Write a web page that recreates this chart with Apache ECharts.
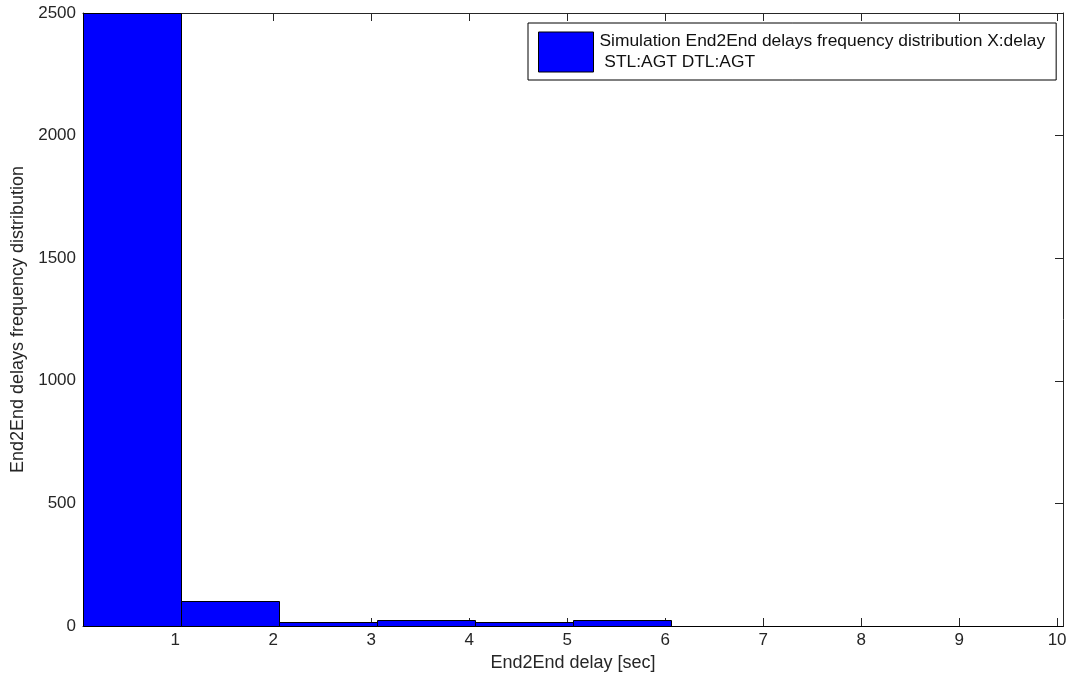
<!DOCTYPE html>
<html>
<head>
<meta charset="utf-8">
<title>End2End delays frequency distribution</title>
<script src="https://cdn.jsdelivr.net/npm/echarts@6/dist/echarts.min.js"></script>
<style>
  html, body { margin: 0; padding: 0; background: #ffffff; }
  #chart { width: 1068px; height: 679px; }
</style>
</head>
<body>
<div id="chart"></div>
<script>
// Histogram bin edges (seconds) and the count in each bin
const binEdges = [0.06, 1.06, 2.06, 3.06, 4.06, 5.06, 6.06, 7.06, 8.06, 9.06, 10.06];
const counts = [2500, 100, 16, 25, 16, 25, 2, 1, 1, 1];

// Axis tick values
const xTicks = [1, 2, 3, 4, 5, 6, 7, 8, 9, 10];
const yTicks = [0, 500, 1000, 1500, 2000, 2500];

const seriesName = 'Simulation End2End delays frequency distribution X:delay\n STL:AGT DTL:AGT';
const xTitle = 'End2End delay [sec]';
const yTitle = 'End2End delays frequency distribution';

const FONT = '"Liberation Sans", Arial, sans-serif';
const INK = '#262626';

const bins = counts.map((c, i) => [binEdges[i], binEdges[i + 1], c]);

// Inward-pointing ticks, drawn on all four sides of the box
function ticks(values) {
  return { show: true, inside: true, length: 8, customValues: values.slice(), lineStyle: { color: INK, width: 1 } };
}
function line() {
  return { show: true, onZero: false, lineStyle: { color: INK, width: 1 } };
}

const xMin = binEdges[0], xMax = binEdges[binEdges.length - 1];
const yMin = yTicks[0], yMax = yTicks[yTicks.length - 1];

const chart = echarts.init(document.getElementById('chart'), null, { renderer: 'canvas' });

chart.setOption({
  animation: false,
  backgroundColor: '#ffffff',
  textStyle: { fontFamily: FONT },
  grid: {
    left: 83, right: 5, top: 13, bottom: 53,
    outerBoundsMode: 'none',
    show: false
  },
  legend: {
    show: true,
    left: 528, top: 23,
    orient: 'vertical',
    selectedMode: false,
    icon: 'rect',
    itemWidth: 55, itemHeight: 40,
    padding: [8, 11, 7, 10],
    borderColor: '#000', borderWidth: 1,
    backgroundColor: '#ffffff',
    textStyle: { fontFamily: FONT, fontSize: 17.4, lineHeight: 21, color: '#111', padding: [0, 0, 0, 1] },
    data: [{ name: seriesName, icon: 'rect', itemStyle: { color: '#0000ff', borderColor: '#000', borderWidth: 1 } }]
  },
  xAxis: [
    {
      type: 'value', position: 'bottom',
      min: xMin, max: xMax,
      name: xTitle, nameLocation: 'middle', nameGap: 28,
      nameTextStyle: { fontFamily: FONT, fontSize: 18, color: INK },
      axisLine: line(),
      axisTick: ticks(xTicks),
      axisLabel: { customValues: xTicks.slice(), margin: 6, fontFamily: FONT, fontSize: 17, color: INK },
      splitLine: { show: false }
    },
    {
      type: 'value', position: 'top',
      min: xMin, max: xMax,
      axisLine: line(),
      axisTick: ticks(xTicks),
      axisLabel: { show: false },
      splitLine: { show: false }
    }
  ],
  yAxis: [
    {
      type: 'value', position: 'left',
      min: yMin, max: yMax,
      name: yTitle, nameLocation: 'middle', nameGap: 51, nameRotate: 90,
      nameTextStyle: { fontFamily: FONT, fontSize: 18, color: INK },
      axisLine: line(),
      axisTick: ticks(yTicks),
      axisLabel: {
        customValues: yTicks.slice(), margin: 7, fontFamily: FONT, fontSize: 17, color: INK,
        formatter: function (v) { return String(v); }
      },
      splitLine: { show: false }
    },
    {
      type: 'value', position: 'right',
      min: yMin, max: yMax,
      axisLine: line(),
      axisTick: ticks(yTicks),
      axisLabel: { show: false },
      splitLine: { show: false }
    }
  ],
  series: [
    {
      name: seriesName,
      type: 'custom',
      xAxisIndex: 0, yAxisIndex: 0,
      z: 1,
      encode: { x: [0, 1], y: 2 },
      itemStyle: { color: '#0000ff', borderColor: '#000', borderWidth: 1 },
      renderItem: function (params, api) {
        const topLeft = api.coord([api.value(0), api.value(2)]);
        const bottomRight = api.coord([api.value(1), 0]);
        const x = Math.round(topLeft[0]) + 0.5;
        const y = Math.round(topLeft[1]) + 0.5;
        const x2 = Math.round(bottomRight[0]) + 0.5;
        const y2 = Math.round(bottomRight[1]) + 0.5;
        return {
          type: 'rect',
          shape: { x: x, y: y, width: x2 - x, height: y2 - y },
          style: { fill: '#0000ff', stroke: '#000000', lineWidth: 1 }
        };
      },
      data: bins
    }
  ]
});
</script>
</body>
</html>
